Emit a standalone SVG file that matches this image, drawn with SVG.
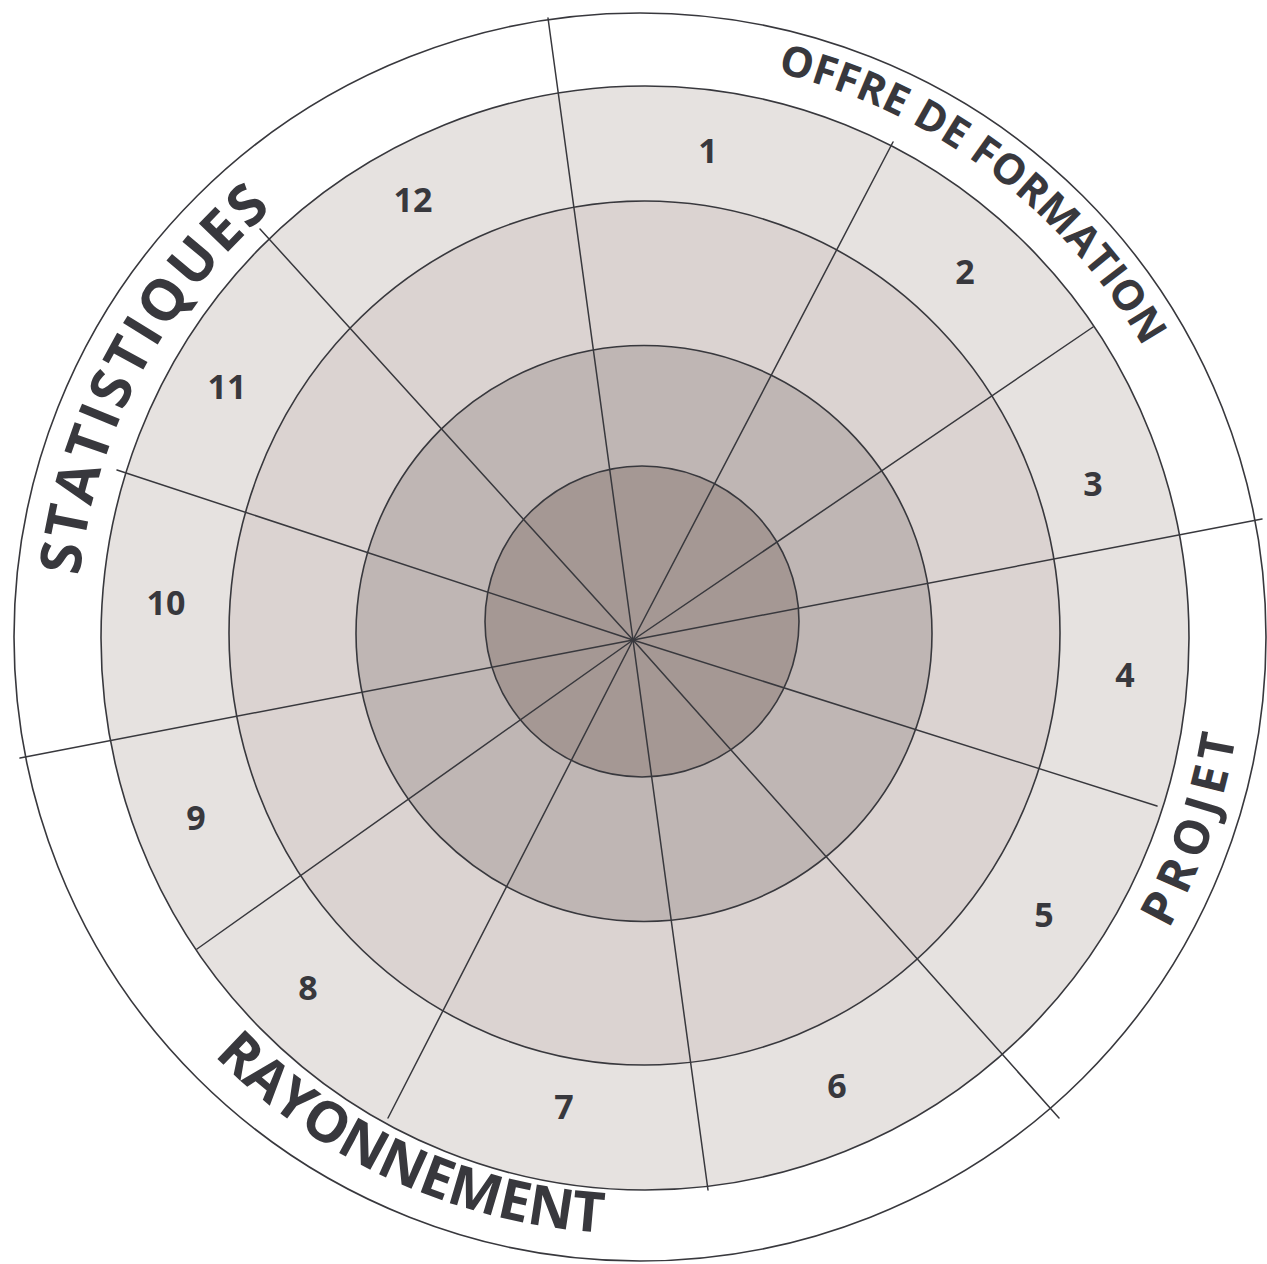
<svg xmlns="http://www.w3.org/2000/svg" width="1267" height="1264" viewBox="0 0 1267 1264">
<style>
.ring{stroke:#38383d;stroke-width:1.6}
.spoke{stroke:#38383d;stroke-width:1.5;fill:none;stroke-linecap:round}
.num{font-family:"Open Sans","Liberation Sans",sans-serif;font-weight:700;font-size:34px;fill:#38383d;text-anchor:middle}
.cat{font-family:"Open Sans","Liberation Sans",sans-serif;font-weight:700;fill:#38383d}
</style>
<defs>
<path id="arc-offre" d="M640,56 A581,581 0 0 1 1197.6,473.9"/>
<path id="arc-stat" d="M88.9,756.7 A564,564 0 0 1 426.5,115"/>
<path id="arc-projet" d="M1034.7,1094.2 A604,604 0 0 0 1233.3,523.8"/>
<path id="arc-rayon" d="M101,893.6 A597,597 0 0 0 799,1212.4"/>
</defs>
<rect width="1267" height="1264" fill="#ffffff"/>
<g id="rings">
<ellipse id="ring-outer" class="ring" cx="640" cy="637" rx="626" ry="624" fill="#ffffff"/>
<ellipse id="ring-4" class="ring" cx="645" cy="638" rx="544" ry="552" fill="#e6e2e0"/>
<ellipse id="ring-3" class="ring" cx="644.5" cy="633" rx="415.5" ry="432" fill="#dbd3d1"/>
<circle id="ring-2" class="ring" cx="644" cy="633.5" r="288" fill="#bfb6b4"/>
<ellipse id="ring-1" class="ring" cx="642" cy="621.5" rx="157" ry="155.5" fill="#a59894" stroke-width="2"/>
</g>
<g id="connectors">
<line class="spoke" x1="633" y1="640" x2="548" y2="18"/>
<line class="spoke" x1="633" y1="640" x2="893" y2="142"/>
<line class="spoke" x1="633" y1="640" x2="1093" y2="327"/>
<line class="spoke" x1="633" y1="640" x2="1262" y2="519"/>
<line class="spoke" x1="633" y1="640" x2="1157" y2="806"/>
<line class="spoke" x1="633" y1="640" x2="1059" y2="1118"/>
<line class="spoke" x1="633" y1="640" x2="708" y2="1190"/>
<line class="spoke" x1="633" y1="640" x2="388" y2="1118"/>
<line class="spoke" x1="633" y1="640" x2="197" y2="949"/>
<line class="spoke" x1="633" y1="640" x2="20" y2="758"/>
<line class="spoke" x1="633" y1="640" x2="117" y2="470"/>
<line class="spoke" x1="633" y1="640" x2="260" y2="229"/>
</g>
<g id="segments">
<g id="seg-1"><text class="num" x="708" y="163">1</text></g>
<g id="seg-2"><text class="num" x="965" y="284">2</text></g>
<g id="seg-3"><text class="num" x="1093" y="496">3</text></g>
<g id="seg-4"><text class="num" x="1125" y="687">4</text></g>
<g id="seg-5"><text class="num" x="1044" y="927">5</text></g>
<g id="seg-6"><text class="num" x="837" y="1098">6</text></g>
<g id="seg-7"><text class="num" x="564" y="1119">7</text></g>
<g id="seg-8"><text class="num" x="308" y="1000">8</text></g>
<g id="seg-9"><text class="num" x="196" y="830">9</text></g>
<g id="seg-10"><text class="num" x="166" y="615">10</text></g>
<g id="seg-11"><text class="num" x="227" y="399">11</text></g>
<g id="seg-12"><text class="num" x="413" y="212">12</text></g>
</g>
<g id="categories">
<g id="cat-offre"><text class="cat" font-size="42"><textPath href="#arc-offre" startOffset="50%" text-anchor="middle" textLength="470" lengthAdjust="spacing">OFFRE DE FORMATION</textPath></text></g>
<g id="cat-stat"><text class="cat" font-size="57"><textPath href="#arc-stat" startOffset="50%" text-anchor="middle" textLength="424" lengthAdjust="spacing">STATISTIQUES</textPath></text></g>
<g id="cat-projet"><text class="cat" font-size="48"><textPath href="#arc-projet" startOffset="50%" text-anchor="middle" textLength="205" lengthAdjust="spacing">PROJET</textPath></text></g>
<g id="cat-rayon"><text class="cat" font-size="56"><textPath href="#arc-rayon" startOffset="50%" text-anchor="middle" textLength="437" lengthAdjust="spacing">RAYONNEMENT</textPath></text></g>
</g>
</svg>
